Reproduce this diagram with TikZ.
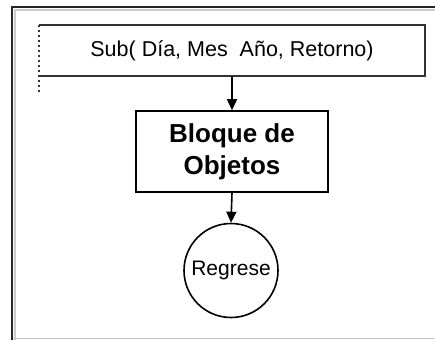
\documentclass[tikz,border=0pt]{standalone}
\usepackage{fontspec}
\setmainfont{Liberation Sans}
\usetikzlibrary{arrows.meta}

\begin{document}
\begin{tikzpicture}[x=1pt, y=-1pt, line width=1.6pt,
    flow/.style={-{Triangle[length=11pt,width=10pt]}},
    blockbox/.style={draw, minimum width=192pt, minimum height=81pt, align=center,
      font=\fontsize{26}{32}\selectfont\bfseries},
    endcircle/.style={draw, circle, minimum size=94pt, inner sep=0pt,
      font=\fontsize{21}{24}\selectfont}]
  \useasboundingbox (0,0) rectangle (435,340);
  % window frame
  \fill[white] (0,0) rectangle (435,340);
  \draw[gray!45, line width=1pt] (12,338) -- (435,338);
  \draw[gray!40, line width=2pt] (15,9) -- (15,340);
  \draw[gray!40, line width=2pt] (14,10) -- (435,10);
  \draw[black!85, line width=2.5pt] (12,340) -- (12,7) -- (435,7);
  % header of the procedure
  \node[minimum width=384pt, minimum height=49pt, inner sep=0pt,
    font=\fontsize{21.5}{24}\selectfont] (sub) at (232,50.5)
    {Sub( Día, Mes\ \ Año, Retorno)};
  \draw[black!80] (sub.north west) -- (sub.north east) -- (sub.south east) -- (sub.south west);
  \draw[black!80, dash pattern=on 2pt off 3pt] (sub.north west) -- ++(0,69);
  % body
  \node[blockbox] (bloque) at (232,151.5) {Bloque de\\ Objetos};
  \node[endcircle] (regrese) at (231,270.5) {Regrese};
  \draw[flow] (sub.south -| bloque.north) -- (bloque.north);
  \draw[flow] (bloque.south) -- (regrese.north);
\end{tikzpicture}
\end{document}
